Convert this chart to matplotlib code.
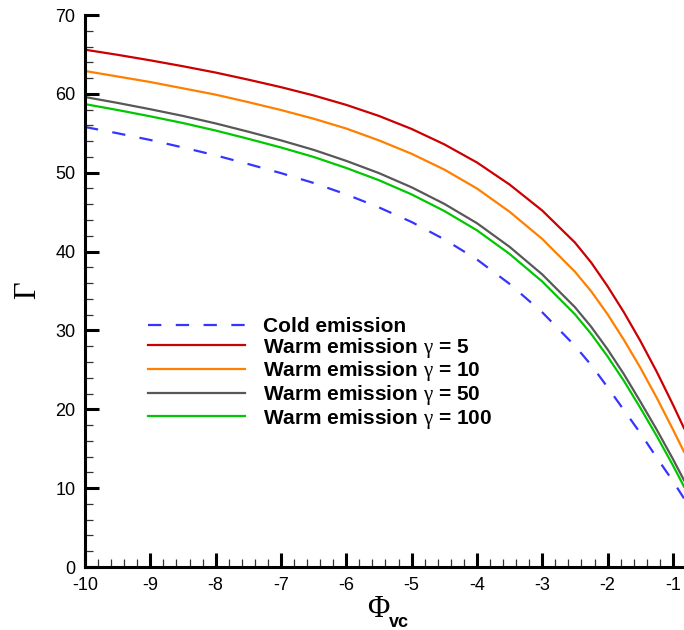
import matplotlib
matplotlib.use("Agg")
import matplotlib.pyplot as plt
from matplotlib.ticker import MultipleLocator, FuncFormatter

plt.rcParams['font.family'] = ['Liberation Sans', 'DejaVu Sans']
plt.rcParams['mathtext.fontset'] = 'custom'
plt.rcParams['mathtext.rm'] = 'Liberation Serif'
plt.rcParams['mathtext.it'] = 'Liberation Serif:italic'
plt.rcParams['mathtext.bf'] = 'Liberation Sans:bold'

phi = [-10, -9.5, -9, -8.5, -8, -7.5, -7, -6.5, -6, -5.5, -5, -4.5, -4, -3.5, -3,
       -2.5, -2.25, -2, -1.75, -1.5, -1.25, -1, -0.83]
cold = [55.8, 55.0, 54.15, 53.2, 52.2, 51.1, 49.95, 48.7, 47.25, 45.6, 43.75, 41.55, 39.0,
        35.9, 32.3, 28.05, 25.6, 22.8, 19.9, 17.0, 13.9, 10.9, 8.7]
warm5 = [65.6, 64.95, 64.25, 63.5, 62.7, 61.8, 60.85, 59.8, 58.6, 57.2, 55.55, 53.6, 51.3,
         48.5, 45.2, 41.15, 38.6, 35.6, 32.3, 28.7, 24.8, 20.6, 17.6]
warm10 = [62.9, 62.2, 61.5, 60.7, 59.9, 58.95, 57.95, 56.85, 55.6, 54.1, 52.4, 50.4, 48.0,
          45.05, 41.6, 37.45, 34.95, 32.05, 28.8, 25.3, 21.5, 17.45, 14.6]
warm50 = [59.6, 58.85, 58.05, 57.2, 56.25, 55.2, 54.1, 52.9, 51.5, 49.95, 48.15, 46.05, 43.6,
          40.6, 37.1, 32.95, 30.45, 27.6, 24.45, 21.0, 17.45, 13.7, 11.0]
warm100 = [58.7, 57.95, 57.15, 56.3, 55.35, 54.3, 53.2, 52.0, 50.6, 49.05, 47.25, 45.15, 42.7,
           39.7, 36.2, 32.05, 29.55, 26.7, 23.6, 20.2, 16.65, 12.9, 10.2]

labels = ['Cold emission',
          r'Warm emission $\mathrm{\gamma}$ = 5',
          r'Warm emission $\mathrm{\gamma}$ = 10',
          r'Warm emission $\mathrm{\gamma}$ = 50',
          r'Warm emission $\mathrm{\gamma}$ = 100']

fig = plt.figure(figsize=(6.84, 6.30), dpi=100)
ax = fig.add_axes([85/684, 63/630, 1 - 85/684, 552/630])

lw = 1.6
ax.plot(phi, cold, color='#3535ff', lw=lw, linestyle=(0, (6.0, 6.5)), label=labels[0])
ax.plot(phi, warm5, color='#cc0000', lw=lw, label=labels[1])
ax.plot(phi, warm10, color='#ff8000', lw=lw, label=labels[2])
ax.plot(phi, warm50, color='#585858', lw=lw, label=labels[3])
ax.plot(phi, warm100, color='#00c800', lw=lw, label=labels[4])

ax.set_xlim(-10, -0.83)
ax.set_ylim(0, 70)
ax.xaxis.set_major_locator(MultipleLocator(1))
ax.xaxis.set_minor_locator(MultipleLocator(0.2))
ax.yaxis.set_major_locator(MultipleLocator(10))
ax.yaxis.set_minor_locator(MultipleLocator(2))

for s in ['top', 'right']:
    ax.spines[s].set_visible(False)
for s in ['left', 'bottom']:
    ax.spines[s].set_linewidth(2.2)

ax.tick_params(which='major', direction='in', length=10, width=2.2, labelsize=13, pad=7)
ax.tick_params(which='minor', direction='in', length=5.5, width=0.9, color='#333333')
ax.xaxis.set_major_formatter(FuncFormatter(lambda v, p: '%d' % round(v)))

ax.set_ylabel(r'$\mathrm{\Gamma}$', fontsize=22, labelpad=9)
fig.text(379/684, (630 - 617)/630, r'$\mathrm{\Phi}$', fontsize=22,
         ha='center', va='baseline')
fig.text(389/684, (630 - 627)/630, 'vc', fontsize=13, fontweight='bold',
         ha='left', va='baseline')

leg = ax.legend(loc='upper left', bbox_to_anchor=(148/684, 1 - 317/630),
                bbox_transform=fig.transFigure, frameon=False,
                prop={'weight': 'bold', 'size': 15}, handlelength=4.65,
                handletextpad=0.85, labelspacing=-0.015, borderaxespad=0, borderpad=0)

fig.savefig('out.png', dpi=100)
